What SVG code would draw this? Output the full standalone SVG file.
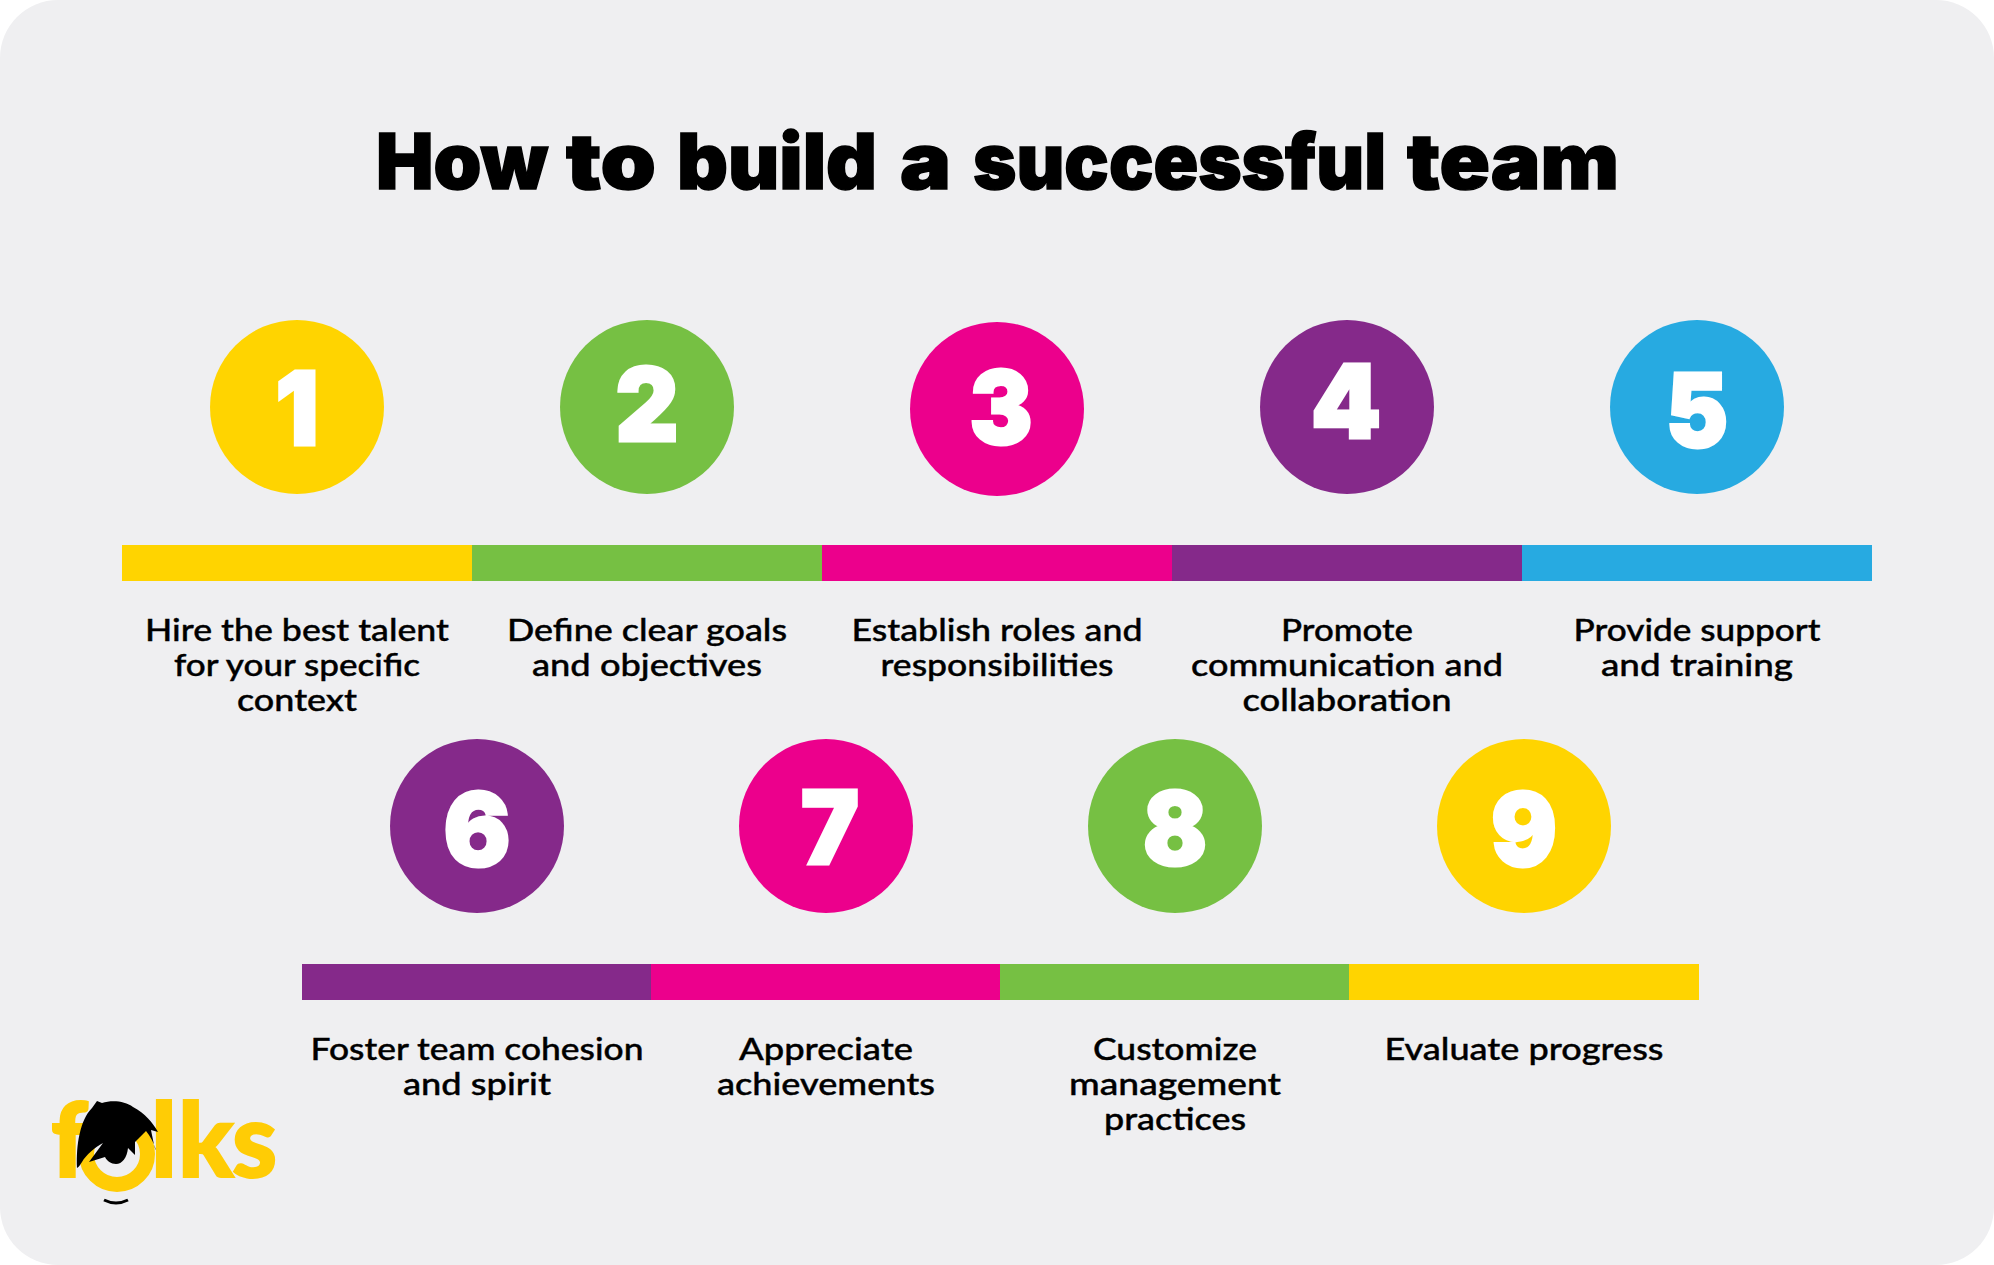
<svg xmlns="http://www.w3.org/2000/svg" width="1994" height="1265" viewBox="0 0 1994 1265">
<style>
.title{font:900 77px Inter,"Liberation Sans",sans-serif;fill:#000;stroke:#000;stroke-width:1.5px}
.num{font:900 102px Inter,"Liberation Sans",sans-serif;fill:#fff;text-anchor:middle;stroke:#fff;stroke-width:3px}
.lbl{font:500 31px Lato,"Liberation Sans",sans-serif;fill:#000;text-anchor:middle;stroke:#000;stroke-width:.4px}
.logo{font:900 102px Lato,"Liberation Sans",sans-serif;fill:#FFCC05;stroke:#FFCC05;stroke-width:2px}
.y{fill:#FFD400}.g{fill:#76C043}.m{fill:#EC008C}.p{fill:#85298A}.b{fill:#27AAE1}
</style>
<rect width="1994" height="1265" fill="#fff"/>
<rect id="background" width="1994" height="1265" rx="58" fill="#EFEFF1"/>
<text id="title" class="title" y="189" lengthAdjust="spacingAndGlyphs"><tspan x="376" textLength="172" lengthAdjust="spacingAndGlyphs">How</tspan> <tspan x="566" textLength="90" lengthAdjust="spacingAndGlyphs">to</tspan> <tspan x="677" textLength="200" lengthAdjust="spacingAndGlyphs">build</tspan> <tspan x="900" textLength="51" lengthAdjust="spacingAndGlyphs">a</tspan> <tspan x="973" textLength="413" lengthAdjust="spacingAndGlyphs">successful</tspan> <tspan x="1407" textLength="212" lengthAdjust="spacingAndGlyphs">team</tspan></text>
<g id="step1"><circle class="y" cx="297" cy="407" r="87"/><text class="num" x="297" y="445" textLength="43" lengthAdjust="spacingAndGlyphs">1</text><rect class="y" x="122" y="545" width="350" height="36"/><text class="lbl" x="297" y="641" textLength="304" lengthAdjust="spacingAndGlyphs">Hire the best talent</text><text class="lbl" x="297" y="676" textLength="246" lengthAdjust="spacingAndGlyphs">for your specific</text><text class="lbl" x="297" y="711" textLength="120" lengthAdjust="spacingAndGlyphs">context</text></g>
<g id="step2"><circle class="g" cx="647" cy="407" r="87"/><text class="num" x="647" y="441" textLength="63" lengthAdjust="spacingAndGlyphs">2</text><rect class="g" x="472" y="545" width="350" height="36"/><text class="lbl" x="647" y="641" textLength="280" lengthAdjust="spacingAndGlyphs">Define clear goals</text><text class="lbl" x="647" y="676" textLength="230" lengthAdjust="spacingAndGlyphs">and objectives</text></g>
<g id="step3"><circle class="m" cx="997" cy="409" r="87"/><text class="num" x="1001" y="444" textLength="63" lengthAdjust="spacingAndGlyphs">3</text><rect class="m" x="822" y="545" width="350" height="36"/><text class="lbl" x="997" y="641" textLength="291" lengthAdjust="spacingAndGlyphs">Establish roles and</text><text class="lbl" x="997" y="676" textLength="233" lengthAdjust="spacingAndGlyphs">responsibilities</text></g>
<g id="step4"><circle class="p" cx="1347" cy="407" r="87"/><text class="num" x="1346" y="438" textLength="70" lengthAdjust="spacingAndGlyphs">4</text><rect class="p" x="1172" y="545" width="350" height="36"/><text class="lbl" x="1347" y="641" textLength="132" lengthAdjust="spacingAndGlyphs">Promote</text><text class="lbl" x="1347" y="676" textLength="312" lengthAdjust="spacingAndGlyphs">communication and</text><text class="lbl" x="1347" y="711" textLength="209" lengthAdjust="spacingAndGlyphs">collaboration</text></g>
<g id="step5"><circle class="b" cx="1697" cy="407" r="87"/><text class="num" x="1697" y="447" textLength="62" lengthAdjust="spacingAndGlyphs">5</text><rect class="b" x="1522" y="545" width="350" height="36"/><text class="lbl" x="1697" y="641" textLength="247" lengthAdjust="spacingAndGlyphs">Provide support</text><text class="lbl" x="1697" y="676" textLength="192" lengthAdjust="spacingAndGlyphs">and training</text></g>
<g id="step6"><circle class="p" cx="477" cy="826" r="87"/><text class="num" x="477" y="866" textLength="67" lengthAdjust="spacingAndGlyphs">6</text><rect class="p" x="302" y="964" width="349" height="36"/><text class="lbl" x="477" y="1060" textLength="333" lengthAdjust="spacingAndGlyphs">Foster team cohesion</text><text class="lbl" x="477" y="1095" textLength="148" lengthAdjust="spacingAndGlyphs">and spirit</text></g>
<g id="step7"><circle class="m" cx="826" cy="826" r="87"/><text class="num" x="830" y="864" textLength="58" lengthAdjust="spacingAndGlyphs">7</text><rect class="m" x="651" y="964" width="349" height="36"/><text class="lbl" x="826" y="1060" textLength="174" lengthAdjust="spacingAndGlyphs">Appreciate</text><text class="lbl" x="826" y="1095" textLength="218" lengthAdjust="spacingAndGlyphs">achievements</text></g>
<g id="step8"><circle class="g" cx="1175" cy="826" r="87"/><text class="num" x="1175" y="865" textLength="64" lengthAdjust="spacingAndGlyphs">8</text><rect class="g" x="1000" y="964" width="349" height="36"/><text class="lbl" x="1175" y="1060" textLength="164" lengthAdjust="spacingAndGlyphs">Customize</text><text class="lbl" x="1175" y="1095" textLength="212" lengthAdjust="spacingAndGlyphs">management</text><text class="lbl" x="1175" y="1130" textLength="142" lengthAdjust="spacingAndGlyphs">practices</text></g>
<g id="step9"><circle class="y" cx="1524" cy="826" r="87"/><text class="num" x="1524" y="866" textLength="66" lengthAdjust="spacingAndGlyphs">9</text><rect class="y" x="1349" y="964" width="350" height="36"/><text class="lbl" x="1524" y="1060" textLength="279" lengthAdjust="spacingAndGlyphs">Evaluate progress</text></g>
<g id="logo">
<text class="logo" y="1177"><tspan x="51">f</tspan><tspan x="151">l</tspan><tspan x="178">k</tspan><tspan x="232">s</tspan></text>
<circle cx="117" cy="1154" r="30.5" fill="none" stroke="#FFCC05" stroke-width="15"/>
<path d="M77 1168C76 1145 80 1120 92 1108L97 1101L102 1103C112 1100 125 1101 133 1107C145 1113 153 1123 158 1132L151 1130C153 1140 155 1150 156 1150C154 1143 150 1136 146 1131L135 1142L135 1155L128 1148C127 1158 122 1164 116 1164C111 1164 107 1161 105 1157L89 1162L103 1143C95 1147 86 1155 82 1162C80 1165 79 1167 77 1168Z" fill="#000"/>
<path d="M104 1200Q116 1206 128 1200" fill="none" stroke="#000" stroke-width="3"/>
</g>
</svg>
